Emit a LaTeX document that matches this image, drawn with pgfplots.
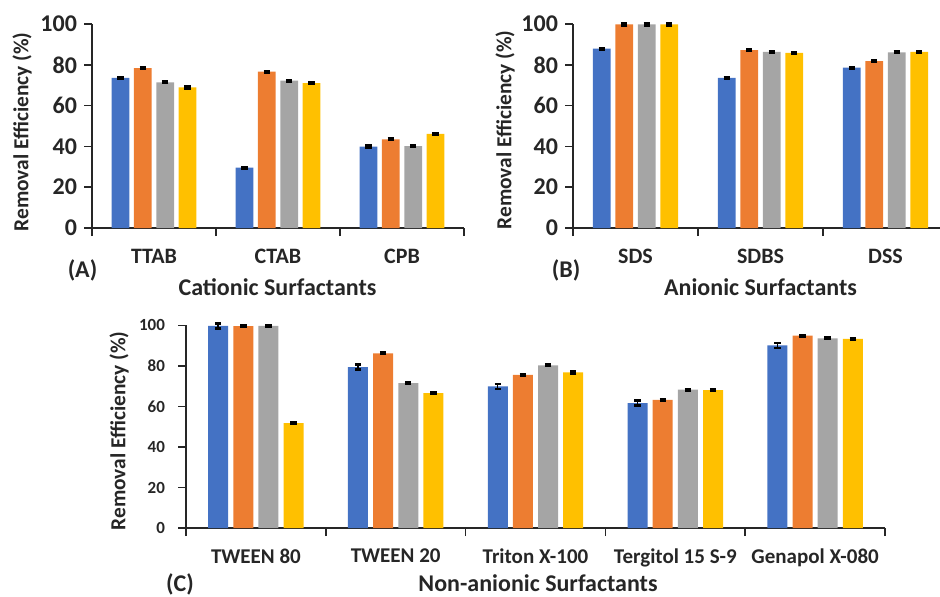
\documentclass[border=0pt]{standalone}
\usepackage{pgfplots}
\pgfplotsset{compat=1.18}
\usepackage{fontspec}
\setmainfont{Carlito}
\definecolor{cblue}{HTML}{4472C4}
\definecolor{corange}{HTML}{ED7D31}
\definecolor{cgray}{HTML}{A5A5A5}
\definecolor{cyellow}{HTML}{FFC000}
\definecolor{axc}{HTML}{262626}
\pgfplotsset{
  panel/.style={
    scale only axis, axis lines*=left, ymin=0, ymax=100, ytick={0,20,...,100},
    xmin=-0.5, clip=false, tick align=outside,
    axis line style={axc, line width=0.8pt},
    every tick/.style={axc, line width=0.8pt},
    major tick length=4pt,
    x tick label as interval=true,
    /pgf/number format/assume math mode=true,
    yticklabel style={font=\fontsize{12}{14}\selectfont\bfseries, text=axc},
    xticklabel style={font=\fontsize{11}{13}\selectfont\bfseries, text=axc, yshift=-3pt},
    every axis plot/.append style={draw=none,
      error bars/y dir=both, error bars/y explicit,
      error bars/error bar style={black, line width=0.7pt},
      error bars/error mark options={black, rotate=90, mark size=1.6pt, line width=1.3pt}},
  },
}
\begin{document}
\begin{tikzpicture}
\path[use as bounding box] (0,0) rectangle (470pt,-298pt);
% Panel A (category width 62pt)
\begin{axis}[panel, ybar=2.29pt, bar width=8.87pt, at={(46pt,-114pt)}, anchor=south west, width=186pt, height=102pt,
  xmax=2.5, xtick={-0.5,0.5,1.5,2.5}, xticklabels={TTAB,CTAB,CPB}]
\addplot[fill=cblue] coordinates {(0,73.6) +- (0,0.4) (1,29.6) +- (0,0.4) (2,39.9) +- (0,0.4)};
\addplot[fill=corange] coordinates {(0,78.4) +- (0,0.4) (1,76.6) +- (0,0.4) (2,43.5) +- (0,0.4)};
\addplot[fill=cgray] coordinates {(0,71.4) +- (0,0.4) (1,72.2) +- (0,0.4) (2,40.1) +- (0,0.4)};
\addplot[fill=cyellow] coordinates {(0,68.9) +- (0,0.4) (1,71.0) +- (0,0.4) (2,46.2) +- (0,0.4)};
\end{axis}
% Panel B (category width 62.5pt)
\begin{axis}[panel, ybar=2.31pt, bar width=8.94pt, at={(286.5pt,-114pt)}, anchor=south west, width=187.5pt, height=102pt,
  xmax=2.5, xtick={-0.5,0.5,1.5,2.5}, xticklabels={SDS,SDBS,DSS}]
\addplot[fill=cblue] coordinates {(0,87.9) +- (0,0.4) (1,73.6) +- (0,0.4) (2,78.6) +- (0,0.4)};
\addplot[fill=corange] coordinates {(0,99.8) +- (0,0.4) (1,87.2) +- (0,0.4) (2,81.8) +- (0,0.4)};
\addplot[fill=cgray] coordinates {(0,99.8) +- (0,0.4) (1,86.4) +- (0,0.4) (2,86.1) +- (0,0.4)};
\addplot[fill=cyellow] coordinates {(0,99.8) +- (0,0.4) (1,85.9) +- (0,0.4) (2,86.4) +- (0,0.4)};
\end{axis}
% Panel C (category width 69.9pt)
\begin{axis}[panel, ybar=2.58pt, bar width=10.0pt, at={(93pt,-264pt)}, anchor=south west, width=349.5pt, height=101.3pt,
  xmax=4.5, xtick={-0.5,0.5,1.5,2.5,3.5,4.5},
  xticklabels={TWEEN 80,TWEEN 20,Triton X-100,Tergitol 15 S-9,Genapol X-080},
  yticklabel style={font=\fontsize{8.5}{10}\selectfont\bfseries, xshift=-3pt},
  xticklabel style={font=\fontsize{10.5}{12}\selectfont\bfseries}]
\addplot[fill=cblue] coordinates {(0,99.8) +- (0,1.2) (1,79.4) +- (0,1.2) (2,69.9) +- (0,1.2) (3,61.7) +- (0,1.2) (4,90.1) +- (0,1.2)};
\addplot[fill=corange] coordinates {(0,99.7) +- (0,0.4) (1,86.2) +- (0,0.3) (2,75.6) +- (0,0.4) (3,63.3) +- (0,0.4) (4,94.9) +- (0,0.4)};
\addplot[fill=cgray] coordinates {(0,99.8) +- (0,0.4) (1,71.5) +- (0,0.4) (2,80.3) +- (0,0.4) (3,68.3) +- (0,0.4) (4,93.6) +- (0,0.4)};
\addplot[fill=cyellow] coordinates {(0,51.8) +- (0,0.4) (1,66.6) +- (0,0.4) (2,76.8) +- (0,0.4) (3,68.1) +- (0,0.4) (4,93.4) +- (0,0.4)};
\end{axis}
% labels
\node[rotate=90, font=\fontsize{10.7}{12}\selectfont\bfseries, text=axc] at (11pt,-66pt) {Removal Efficiency (\%)};
\node[rotate=90, font=\fontsize{10.7}{12}\selectfont\bfseries, text=axc] at (252.5pt,-65pt) {Removal Efficiency (\%)};
\node[rotate=90, font=\fontsize{10.7}{12}\selectfont\bfseries, text=axc] at (59.5pt,-215.5pt) {Removal Efficiency (\%)};
\node[font=\fontsize{12}{14}\selectfont\bfseries, text=axc] at (41.25pt,-135pt) {(A)};
\node[font=\fontsize{12}{14}\selectfont\bfseries, text=axc] at (138.75pt,-143.5pt) {Cationic Surfactants};
\node[font=\fontsize{12}{14}\selectfont\bfseries, text=axc] at (283pt,-135pt) {(B)};
\node[font=\fontsize{12}{14}\selectfont\bfseries, text=axc] at (380.25pt,-143.5pt) {Anionic Surfactants};
\node[font=\fontsize{12}{14}\selectfont\bfseries, text=axc] at (90pt,-292pt) {(C)};
\node[font=\fontsize{12}{14}\selectfont\bfseries, text=axc, inner sep=0pt, anchor=base] at (269pt,-295.5pt) {Non-anionic Surfactants};
\end{tikzpicture}
\end{document}
